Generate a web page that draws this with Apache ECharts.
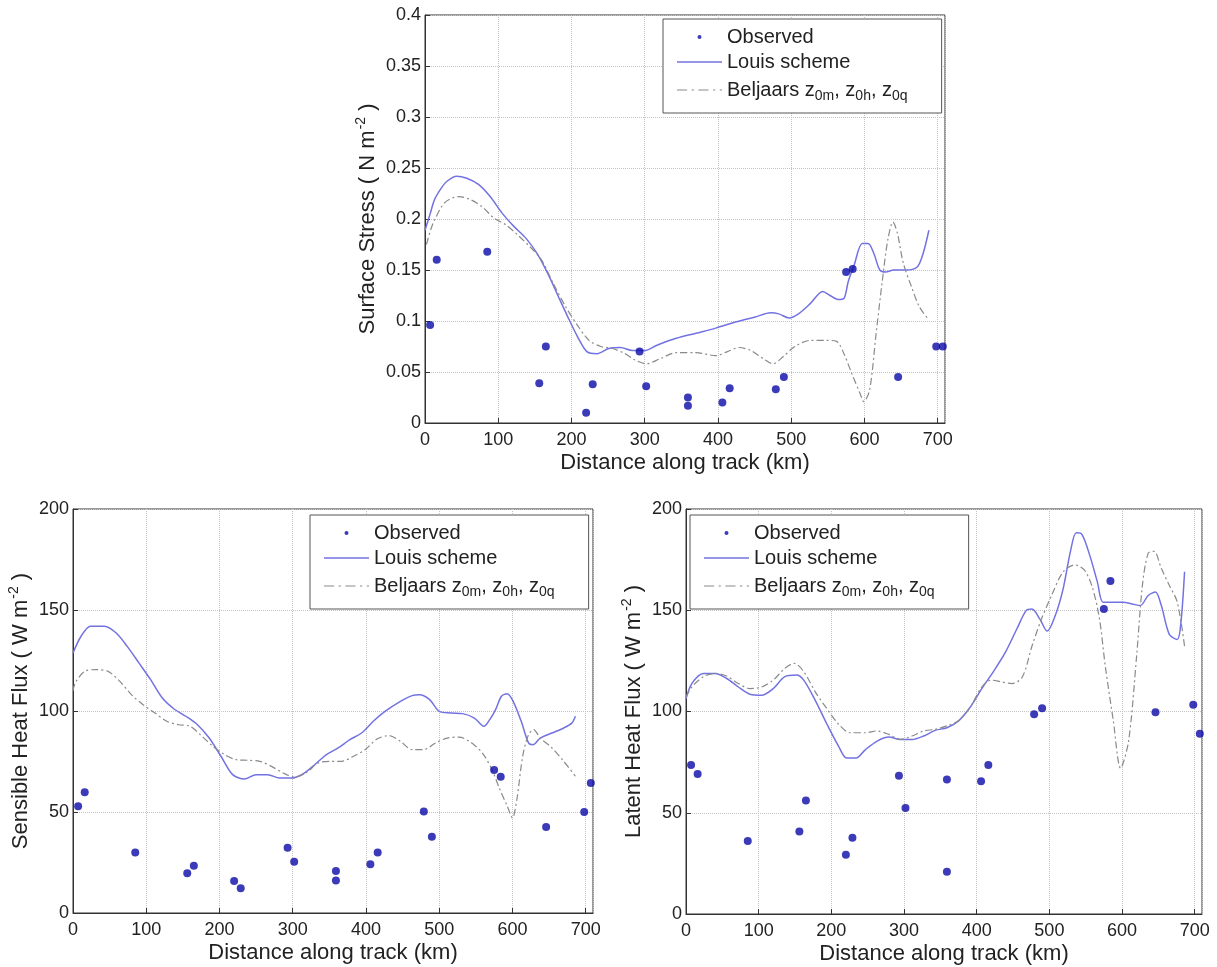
<!DOCTYPE html>
<html>
<head>
<meta charset="utf-8">
<script src="https://cdn.jsdelivr.net/npm/echarts@6/dist/echarts.min.js"></script>
<style>
html, body { margin: 0; padding: 0; background: #fff; }
#chart { width: 1217px; height: 967px; }
</style>
</head>
<body>
<div id="chart"></div>
<script>
// observed stations (km along track), shared by the three panels
var obsX = [7, 16, 85, 156, 165, 220, 229, 293, 302, 359, 359, 406, 416, 479, 490, 575, 584, 646, 698, 707];
var obsStress = [0.096, 0.160, 0.168, 0.039, 0.075, 0.010, 0.038, 0.070, 0.036, 0.025, 0.017, 0.020, 0.034, 0.033, 0.045, 0.148, 0.151, 0.045, 0.075, 0.075];
var obsSensible = [52.8, 59.8, 30.0, 19.7, 23.4, 15.9, 12.3, 32.3, 25.4, 20.8, 16.1, 24.1, 30.0, 50.3, 37.7, 70.8, 67.5, 42.6, 50.0, 64.3];
var obsLatent = [73.6, 69.1, 36.0, 40.7, 56.1, 29.3, 37.7, 68.3, 52.4, 66.4, 20.9, 65.6, 73.6, 98.7, 101.6, 150.6, 164.4, 99.6, 103.3, 89.0];

// model curves [km, value]
var louisStress = [[0,0.189],[7,0.205],[13,0.219],[22,0.230],[30,0.237],[43,0.242],[57,0.240],[73,0.234],[89,0.222],[105,0.206],[121,0.193],[138,0.181],[154,0.165],[170,0.143],[184,0.121],[197,0.101],[208,0.085],[221,0.070],[235,0.068],[251,0.073],[267,0.074],[283,0.071],[300,0.071],[316,0.076],[343,0.083],[370,0.088],[397,0.093],[424,0.099],[451,0.104],[472,0.108],[483,0.107],[497,0.103],[510,0.107],[526,0.117],[543,0.129],[553,0.125],[564,0.121],[572,0.122],[578,0.139],[586,0.155],[597,0.176],[605,0.176],[613,0.166],[621,0.150],[629,0.148],[640,0.150],[656,0.150],[672,0.153],[680,0.166],[688,0.189]];
var beljStress = [[2,0.175],[8,0.190],[13,0.199],[27,0.216],[46,0.222],[62,0.219],[78,0.212],[94,0.201],[111,0.194],[127,0.184],[143,0.173],[159,0.160],[175,0.137],[192,0.114],[208,0.096],[224,0.081],[240,0.075],[256,0.073],[273,0.068],[286,0.062],[302,0.058],[321,0.063],[343,0.069],[370,0.069],[397,0.066],[413,0.070],[429,0.074],[445,0.071],[462,0.063],[475,0.058],[489,0.065],[505,0.075],[526,0.081],[548,0.081],[562,0.080],[572,0.068],[583,0.048],[594,0.029],[599,0.021],[607,0.032],[616,0.088],[624,0.137],[632,0.180],[639,0.197],[645,0.186],[653,0.157],[664,0.134],[675,0.114],[688,0.101]];

var louisSensible = [[0,128.7],[11,137],[24,142],[43,142],[59,138.6],[74,132],[90,123.8],[106,115.5],[122,106.4],[138,101],[154,97.4],[170,93.2],[186,86.6],[202,77.6],[218,68.5],[234,66.3],[250,68.5],[266,68.5],[282,66.8],[298,66.8],[314,68.8],[330,73.4],[346,78.4],[362,81.7],[378,85.8],[394,89.1],[410,94.9],[426,99.8],[447,104.8],[463,107.6],[473,108],[487,105.6],[500,99.8],[516,99],[532,98.7],[548,96.5],[561,92.4],[569,95.7],[577,100.7],[585,107.3],[593,108.6],[601,104.8],[612,94.9],[622,84.2],[628,83.3],[638,86.6],[654,89.1],[670,91.6],[681,94],[686,97.4]];
var beljSensible = [[0,110],[3,113.9],[16,119.6],[32,120.5],[48,119.6],[64,114.7],[80,108],[96,103],[112,99],[128,94.9],[144,93.2],[160,92.4],[176,87.5],[191,82.5],[207,78.4],[223,75.9],[239,75.6],[255,75.1],[271,72.6],[287,69.3],[303,67.3],[319,69.6],[335,74.3],[351,75.1],[367,75.1],[383,77.6],[399,80.9],[415,86.1],[431,87.8],[447,85],[463,80.9],[479,80.9],[495,84.2],[511,86.6],[527,87.1],[543,84.5],[559,79.2],[572,71],[582,61.9],[593,52.8],[600,47],[606,56.1],[614,77.6],[622,88.3],[629,90.8],[638,86.6],[654,81.7],[670,75.1],[686,67.7]];

var louisLatent = [[0,106.3],[8,113.8],[24,118.8],[40,118.8],[56,116.3],[72,112.1],[88,108.5],[104,108],[120,111.3],[136,117.2],[152,118],[162,115.5],[178,105.4],[194,93.7],[210,82.8],[221,77],[234,77],[247,81.2],[263,85.4],[279,87.4],[295,86.2],[311,86.2],[327,87.9],[343,90.7],[359,92],[375,95.4],[391,102.1],[407,111.3],[423,119.7],[439,128.9],[455,140.6],[468,149.8],[476,150.6],[487,145.6],[497,139.7],[508,147.3],[519,160.7],[529,179.1],[537,188.3],[545,187.4],[556,176.6],[566,164],[574,154],[588,154],[601,154],[614,153.1],[625,152.3],[636,157.3],[646,159],[654,152.3],[665,138.1],[676,135.6],[681,143.9],[686,169]];
var beljLatent = [[0,107.1],[8,112.1],[24,117.2],[40,118.8],[56,117.5],[72,113.8],[88,111.3],[104,112.1],[120,115.5],[136,121.3],[149,123.8],[162,119.7],[178,109.6],[194,101.3],[210,93.7],[226,89.5],[247,89.5],[263,90.4],[279,88.7],[295,86.2],[311,87.9],[327,90.4],[343,91.2],[359,92.9],[375,95.4],[391,102.1],[407,112.1],[420,115.5],[434,114.6],[449,113.8],[463,117.2],[476,132.2],[489,145.6],[503,157.3],[519,169],[535,172.4],[548,169.9],[559,161.5],[569,145.6],[577,122.2],[588,95.4],[598,72],[609,85.4],[620,127.2],[628,162.3],[636,178.2],[644,179.1],[654,170.7],[665,162.3],[676,154],[686,132.2]];

var xTicks = [0, 100, 200, 300, 400, 500, 600, 700];
var xName = 'Distance along track (km)';

var FONT = '"Liberation Sans", Arial, sans-serif';
var louisColor = '#7272e2';
var beljColor = '#8a8a8a';
var obsColor = '#0a0aa8';

function pairs(xs, ys) {
    return xs.map(function (x, i) { return [x, ys[i]]; });
}

function xAxisFor(idx) {
    return {
        gridIndex: idx, type: 'value', min: 0, max: 710, interval: 100,
        name: xName, nameLocation: 'middle', nameGap: 29,
        nameTextStyle: { fontFamily: FONT, fontSize: 22, color: '#222' },
        axisLine: { show: true, lineStyle: { color: '#333' } },
        axisTick: { inside: true, length: 5, lineStyle: { color: '#333' } },
        axisLabel: {
            margin: 8, fontFamily: FONT, fontSize: 18, color: '#222', showMaxLabel: false,
            formatter: function (v) { return xTicks.indexOf(v) >= 0 ? String(v) : ''; }
        },
        splitLine: { show: true, lineStyle: { color: '#c4c4c4', type: 'dotted' } }
    };
}

function yAxisFor(idx, max, interval, label, gap) {
    return {
        gridIndex: idx, type: 'value', min: 0, max: max, interval: interval,
        name: '{n|' + label + ' ( ' + (idx === 0 ? 'N' : 'W') + ' m}{p|-2}{n| )}',
        nameLocation: 'middle', nameGap: gap, nameRotate: 90,
        nameTextStyle: {
            fontFamily: FONT, fontSize: 22, color: '#222',
            rich: {
                n: { fontFamily: FONT, fontSize: 22, color: '#222', lineHeight: 24 },
                p: { fontFamily: FONT, fontSize: 14, color: '#222', lineHeight: 14, padding: [0, 0, 14, 1] }
            }
        },
        axisLine: { show: true, lineStyle: { color: '#333' } },
        axisTick: { inside: true, length: 5, lineStyle: { color: '#333' } },
        axisLabel: { margin: 4, fontFamily: FONT, fontSize: 18, color: '#222' },
        splitLine: { show: true, lineStyle: { color: '#c4c4c4', type: 'dotted' } }
    };
}

function legendFor(left, top) {
    return {
        orient: 'vertical', left: left, top: top,
        padding: [8, 34, 10, 14], itemGap: 5, itemWidth: 45, itemHeight: 4,
        backgroundColor: '#fff', borderColor: '#555', borderWidth: 1, borderRadius: 0,
        selectedMode: false,
        textStyle: {
            fontFamily: FONT, fontSize: 20, color: '#222', lineHeight: 20,
            rich: {
                t: { fontFamily: FONT, fontSize: 20, color: '#222', lineHeight: 20 },
                s: { fontFamily: FONT, fontSize: 14, color: '#222', lineHeight: 14, padding: [12, 0, 0, 0] }
            }
        },
        formatter: function (name) {
            if (name === 'Beljaars') return '{t|Beljaars z}{s|0m}{t|, z}{s|0h}{t|, z}{s|0q}';
            return '{t|' + name + '}';
        },
        data: [
            { name: 'Observed', icon: 'circle' },
            { name: 'Louis scheme', icon: 'path://M0,0H40V1.4H0Z' },
            { name: 'Beljaars', icon: 'path://M0,0H9V1H0Z M13,0H15V1H13Z M19,0H28V1H19Z M32,0H34V1H32Z M38,0H40V1H38Z' }
        ]
    };
}

function seriesFor(idx, obs, louis, belj) {
    return [
        {
            name: 'Observed', type: 'scatter', xAxisIndex: idx, yAxisIndex: idx,
            data: pairs(obsX, obs), symbolSize: 8,
            itemStyle: { color: obsColor }, z: 5
        },
        {
            name: 'Louis scheme', type: 'line', xAxisIndex: idx, yAxisIndex: idx,
            data: louis, showSymbol: false, symbol: 'none', smooth: 0.3,
            lineStyle: { color: louisColor, width: 1.5 }, itemStyle: { color: louisColor }
        },
        {
            name: 'Beljaars', type: 'line', xAxisIndex: idx, yAxisIndex: idx,
            data: belj, showSymbol: false, symbol: 'none', smooth: 0.3,
            lineStyle: { color: beljColor, width: 1.2, type: [7, 3, 2, 3] }, itemStyle: { color: beljColor }
        }
    ];
}

var chart = echarts.init(document.getElementById('chart'), null, { renderer: 'canvas' });
var option = {
    backgroundColor: '#fff',
    animation: false,
    grid: [
        { left: 425, top: 15, width: 520, height: 408, show: true, borderColor: '#333', borderWidth: 1, backgroundColor: '#fff' },
        { left: 73, top: 509, width: 520, height: 404, show: true, borderColor: '#333', borderWidth: 1, backgroundColor: '#fff' },
        { left: 686, top: 509, width: 516, height: 405, show: true, borderColor: '#333', borderWidth: 1, backgroundColor: '#fff' }
    ],
    xAxis: [xAxisFor(0), xAxisFor(1), xAxisFor(2)],
    yAxis: [
        yAxisFor(0, 0.4, 0.05, 'Surface Stress', 41),
        yAxisFor(1, 200, 50, 'Sensible Heat Flux', 36),
        yAxisFor(2, 200, 50, 'Latent Heat Flux', 37)
    ],
    legend: [legendFor(663, 19), legendFor(310, 515), legendFor(690, 515)],
    series: [].concat(
        seriesFor(0, obsStress, louisStress, beljStress),
        seriesFor(1, obsSensible, louisSensible, beljSensible),
        seriesFor(2, obsLatent, louisLatent, beljLatent)
    )
};
chart.setOption(option);
</script>
</body>
</html>
